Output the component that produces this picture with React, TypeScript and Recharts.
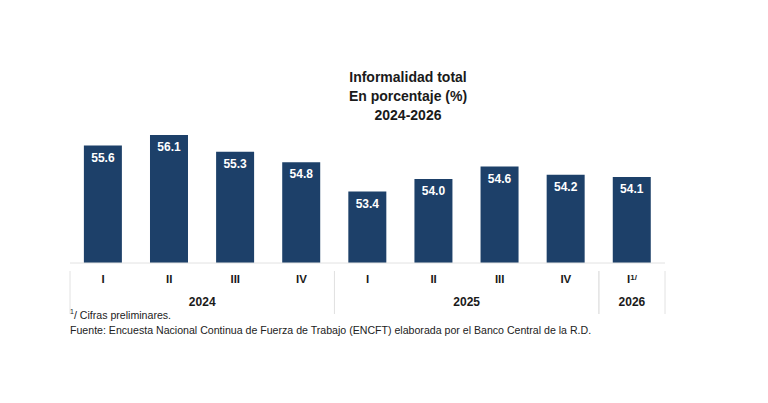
import React from "react";
import { BarChart, Bar, XAxis, YAxis, LabelList } from "recharts";

// Informalidad total por trimestre (%)
const quarters = ["I", "II", "III", "IV", "I", "II", "III", "IV", "I"];
const years = ["2024", "2024", "2024", "2024", "2025", "2025", "2025", "2025", "2026"];
const values = [55.6, 56.1, 55.3, 54.8, 53.4, 54.0, 54.6, 54.2, 54.1];
const preliminary = [false, false, false, false, false, false, false, false, true];

const W = 768;
const H = 403;
const AXIS_H = 45;
const MARGIN = { top: 95, right: 103, bottom: 140 - AXIS_H, left: 70 };
const PLOT_W = W - MARGIN.left - MARGIN.right;
const BAND = PLOT_W / quarters.length;

const BAR_COLOR = "#1d4069";
const GRID = "#e2e2e2";
const FONT = "'Liberation Sans', Arial, sans-serif";

const data = quarters.map((q, i) => ({
  key: `${years[i]}-${q}-${i}`,
  quarter: q,
  year: years[i],
  prelim: preliminary[i],
  value: values[i],
}));

const QuarterTick = (props: any) => {
  const { x, y, payload, index } = props;
  const i = index ?? payload.index;
  const row = data[i];
  if (!row) return null;
  const first = i === 0 || data[i - 1].year !== row.year;
  const last = i === data.length - 1 || data[i + 1].year !== row.year;
  const groupLen = data.filter((d) => d.year === row.year).length;
  const tableH = 43;
  return (
    <g>
      <text
        x={x}
        y={y + 12}
        textAnchor="middle"
        fontFamily={FONT}
        fontWeight="bold"
        fontSize={11.5}
        fill="#1a1a1a"
      >
        {row.quarter}
        {row.prelim && (
          <tspan fontSize={8} dy={-3}>
            1/
          </tspan>
        )}
      </text>
      {first && (
        <line x1={x - BAND / 2} x2={x - BAND / 2} y1={y} y2={y + tableH} stroke={GRID} />
      )}
      {last && (
        <line x1={x + BAND / 2} x2={x + BAND / 2} y1={y} y2={y + tableH} stroke={GRID} />
      )}
      {first && (
        <text
          x={x + ((groupLen - 1) * BAND) / 2}
          y={y + 35}
          textAnchor="middle"
          fontFamily={FONT}
          fontWeight="bold"
          fontSize={12}
          fill="#1a1a1a"
        >
          {row.year}
        </text>
      )}
    </g>
  );
};

const ValueLabel = (props: any) => {
  const { x, y, width, value } = props;
  return (
    <text
      x={x + width / 2}
      y={y + 13}
      textAnchor="middle"
      dominantBaseline="middle"
      fontFamily={FONT}
      fontWeight="bold"
      fontSize={12}
      fill="#ffffff"
    >
      {Number(value).toFixed(1)}
    </text>
  );
};

export default function App() {
  return (
    <div
      style={{
        position: "absolute",
        left: 0,
        top: 0,
        width: W,
        height: H,
        background: "#fff",
        fontFamily: FONT,
        color: "#1a1a1a",
      }}
    >
      <div
        style={{
          position: "absolute",
          left: 308,
          width: 200,
          top: 68,
          textAlign: "center",
          fontWeight: "bold",
          fontSize: 14,
          lineHeight: "19px",
        }}
      >
        Informalidad total
        <br />
        En porcentaje (%)
        <br />
        2024-2026
      </div>

      <BarChart width={W} height={H} data={data} margin={MARGIN} barCategoryGap="21%">
        <YAxis hide domain={[50, 58]} type="number" allowDataOverflow />
        <XAxis
          dataKey="key"
          interval={0}
          tickLine={false}
          axisLine={{ stroke: GRID }}
          tick={<QuarterTick />}
          height={AXIS_H}
        />
        <Bar dataKey="value" fill={BAR_COLOR} isAnimationActive={false}>
          <LabelList dataKey="value" content={<ValueLabel />} />
        </Bar>
      </BarChart>

      <div
        style={{
          position: "absolute",
          left: 70,
          top: 304,
          fontSize: 10.6,
          lineHeight: "15px",
          color: "#222",
          whiteSpace: "nowrap",
        }}
      >
        <div>
          <sup style={{ fontSize: 7 }}>1</sup>/ Cifras preliminares.
        </div>
        <div>
          Fuente: Encuesta Nacional Continua de Fuerza de Trabajo (ENCFT) elaborada por el Banco
          Central de la R.D.
        </div>
      </div>
    </div>
  );
}
